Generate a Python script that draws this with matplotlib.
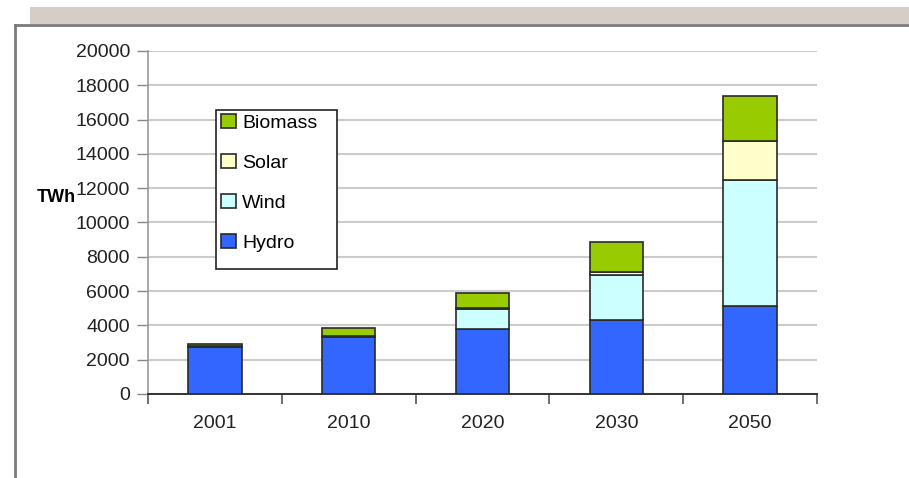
import matplotlib.pyplot as plt
from matplotlib.patches import Patch, Rectangle
from matplotlib.lines import Line2D
import numpy as np

plt.rcParams['font.family'] = ['Liberation Sans', 'DejaVu Sans']

years = ['2001', '2010', '2020', '2030', '2050']
hydro = [2750, 3300, 3800, 4300, 5150]
wind = [50, 100, 1150, 2650, 7330]
solar = [0, 0, 50, 150, 2250]
biomass = [100, 440, 870, 1750, 2670]

names = ['Hydro', 'Wind', 'Solar', 'Biomass']
colors = ['#3366FF', '#CCFFFF', '#FFFFCC', '#99CC00']

W, H = 909, 478
fig = plt.figure(figsize=(W/100, H/100), dpi=100)

# page decoration: grey band and frame lines
fig.patches.append(Rectangle((30/W, 1-24/H), 1, 17/H, transform=fig.transFigure,
                             facecolor='#D5CDC8', edgecolor='none', zorder=0))
fig.lines.append(Line2D([15/W, 1], [1-25/H, 1-25/H], transform=fig.transFigure,
                        color='#7a7a7a', lw=2))
fig.lines.append(Line2D([15/W, 15/W], [1-25/H, 0], transform=fig.transFigure,
                        color='#7a7a7a', lw=2))

ax = fig.add_axes([148/W, 84/H, 669/W, 343/H])
x = np.arange(len(years))
bottom = np.zeros(len(years))
for vals, c in zip([hydro, wind, solar, biomass], colors):
    ax.bar(x, vals, 0.4, bottom=bottom, color=c, edgecolor='#2a2a2a', lw=1.2, zorder=3)
    bottom += np.array(vals)

ax.set_xlim(-0.5, 4.5)
ax.set_ylim(0, 20000)
ax.set_yticks(np.arange(0, 20001, 2000))
ax.yaxis.grid(True, color='#cccccc', lw=1.5, zorder=0)
ax.set_xticks(x)
ax.set_xticklabels(years, fontsize=14, color='#222222')
ax.set_xticks(np.arange(-0.5, 4.6, 1), minor=True)
ax.tick_params(axis='x', which='major', length=0, pad=15)
ax.tick_params(axis='x', which='minor', length=7, width=1.2, color='#555555', direction='out')
ax.tick_params(axis='y', length=8, width=1, color='#888888', pad=5, labelsize=14, labelcolor='#222222')
for s in ['top', 'right']:
    ax.spines[s].set_visible(False)
ax.spines['left'].set_color('#999999')
ax.spines['left'].set_linewidth(1.2)
ax.spines['bottom'].set_color('#333333')
ax.spines['bottom'].set_linewidth(1.4)
ax.set_axisbelow(True)

fig.text(37/W, 1-197/H, 'TWh', fontsize=13, fontweight='bold', va='center', ha='left', zorder=0)

# legend box drawn separately so the entries can sit near its top
fig.patches.append(Rectangle((216/W, 1-269/H), 121/W, 159/H, transform=fig.transFigure,
                             facecolor='white', edgecolor='#222222', lw=1.2, zorder=4))
handles = [Patch(facecolor=c, edgecolor='#2a2a2a', lw=1.2) for c in colors][::-1]
leg = fig.legend(handles, names[::-1], loc='upper left', bbox_to_anchor=(221/W, 1-114/H),
                 borderaxespad=0, fontsize=14, frameon=False, labelspacing=1.13,
                 handlelength=0.75, handleheight=0.75, handletextpad=0.35, borderpad=0.0)
leg.set_zorder(5)

fig.savefig('out.png', dpi=100)
